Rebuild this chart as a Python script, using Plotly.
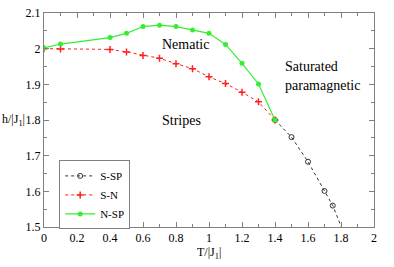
import plotly.graph_objects as go

# S-SP (stripes - saturated paramagnetic)
ssp_T = [1.4, 1.5, 1.6, 1.7, 1.75, 1.82]
ssp_h = [1.80, 1.752, 1.683, 1.601, 1.56, 1.48]
# S-N (stripes - nematic)
sn_T = [0.0, 0.1, 0.4, 0.5, 0.6, 0.7, 0.8, 0.9, 1.0, 1.1, 1.2, 1.3, 1.4]
sn_h = [2.0, 1.999, 1.998, 1.991, 1.981, 1.973, 1.958, 1.944, 1.921, 1.902, 1.878, 1.851, 1.80]
# N-SP (nematic - saturated paramagnetic)
nsp_T = [0.0, 0.1, 0.4, 0.5, 0.6, 0.7, 0.8, 0.9, 1.0, 1.1, 1.2, 1.3, 1.4]
nsp_h = [2.002, 2.013, 2.031, 2.043, 2.062, 2.066, 2.062, 2.052, 2.043, 2.012, 1.959, 1.901, 1.80]

xtick_vals = [0, 0.2, 0.4, 0.6, 0.8, 1, 1.2, 1.4, 1.6, 1.8, 2]
xtick_text = ["0", "0.2", "0.4", "0.6", "0.8", "1", "1.2", "1.4", "1.6", "1.8", "2"]
ytick_vals = [1.5, 1.6, 1.7, 1.8, 1.9, 2.0, 2.1]
ytick_text = ["1.5", "1.6", "1.7", "1.8", "1.9", "2", "2.1"]

FONT = "Liberation Serif, Times New Roman, Times, serif"
AXC = "#808080"

fig = go.Figure()
fig.add_trace(go.Scatter(x=ssp_T, y=ssp_h, name="S-SP", mode="lines+markers",
                         line=dict(color="#333333", width=1, dash="dot"),
                         marker=dict(symbol="circle-open", size=5, color="#333333", line=dict(width=1))))
fig.add_trace(go.Scatter(x=sn_T, y=sn_h, name="S-N", mode="lines+markers",
                         line=dict(color="#ff2020", width=1, dash="dot"),
                         marker=dict(symbol="cross-thin-open", size=5, color="#ff2020",
                                     line=dict(width=1.5, color="#ff2020"))))
fig.add_trace(go.Scatter(x=nsp_T, y=nsp_h, name="N-SP", mode="lines+markers",
                         line=dict(color="#33ee33", width=1.2),
                         marker=dict(symbol="circle", size=5, color="#33ee33")))

annots = [
    dict(x=0.70, y=2.012, text="Nematic"),
    dict(x=0.70, y=1.80, text="Stripes"),
    dict(x=1.45, y=1.95, text="Saturated"),
    dict(x=1.45, y=1.898, text="paramagnetic"),
]
for a in annots:
    fig.add_annotation(x=a["x"], y=a["y"], text=a["text"], xanchor="left", yanchor="middle",
                       showarrow=False, font=dict(family=FONT, size=14, color="black"))
fig.add_annotation(x=0.5, y=-0.075, xref="paper", yref="paper", text="T/|J<sub>1</sub>|",
                   showarrow=False, xanchor="center", yanchor="top",
                   font=dict(family=FONT, size=12, color="black"))
fig.add_annotation(x=-0.133, y=0.5, xref="paper", yref="paper", text="h/|J<sub>1</sub>|",
                   showarrow=False, xanchor="left", yanchor="middle",
                   font=dict(family=FONT, size=12, color="black"))

axis_common = dict(showline=True, linecolor=AXC, linewidth=1, mirror="ticks", ticks="inside",
                   tickcolor=AXC, ticklen=5, showgrid=False, zeroline=False, automargin=False,
                   tickfont=dict(family=FONT, size=12, color="black"))
fig.update_xaxes(range=[0, 2],
                 minor=dict(dtick=0.1, tick0=0, ticks="inside", ticklen=3, tickcolor=AXC, showgrid=False),
                 tickmode="array", tickvals=xtick_vals, ticktext=xtick_text,
                 **axis_common)
fig.update_yaxes(range=[1.5, 2.1],
                 minor=dict(dtick=0.05, tick0=1.5, ticks="inside", ticklen=3, tickcolor=AXC, showgrid=False),
                 tickmode="array", tickvals=ytick_vals, ticktext=ytick_text,
                 **axis_common)

fig.update_layout(width=394, height=267, autosize=False, margin=dict(l=44, r=20, t=13, b=40, pad=0),
                  plot_bgcolor="white", paper_bgcolor="white",
                  font=dict(family=FONT, size=12, color="black"),
                  legend=dict(x=0.046, y=0.15, xanchor="left", yanchor="middle",
                              bordercolor=AXC, borderwidth=1, bgcolor="white",
                              font=dict(family=FONT, size=11), itemwidth=30,
                              tracegroupgap=0))
fig.write_html("out.html", config={"responsive": False, "displayModeBar": False},
               post_script="document.body.style.margin='0';document.body.style.overflow='hidden';")
